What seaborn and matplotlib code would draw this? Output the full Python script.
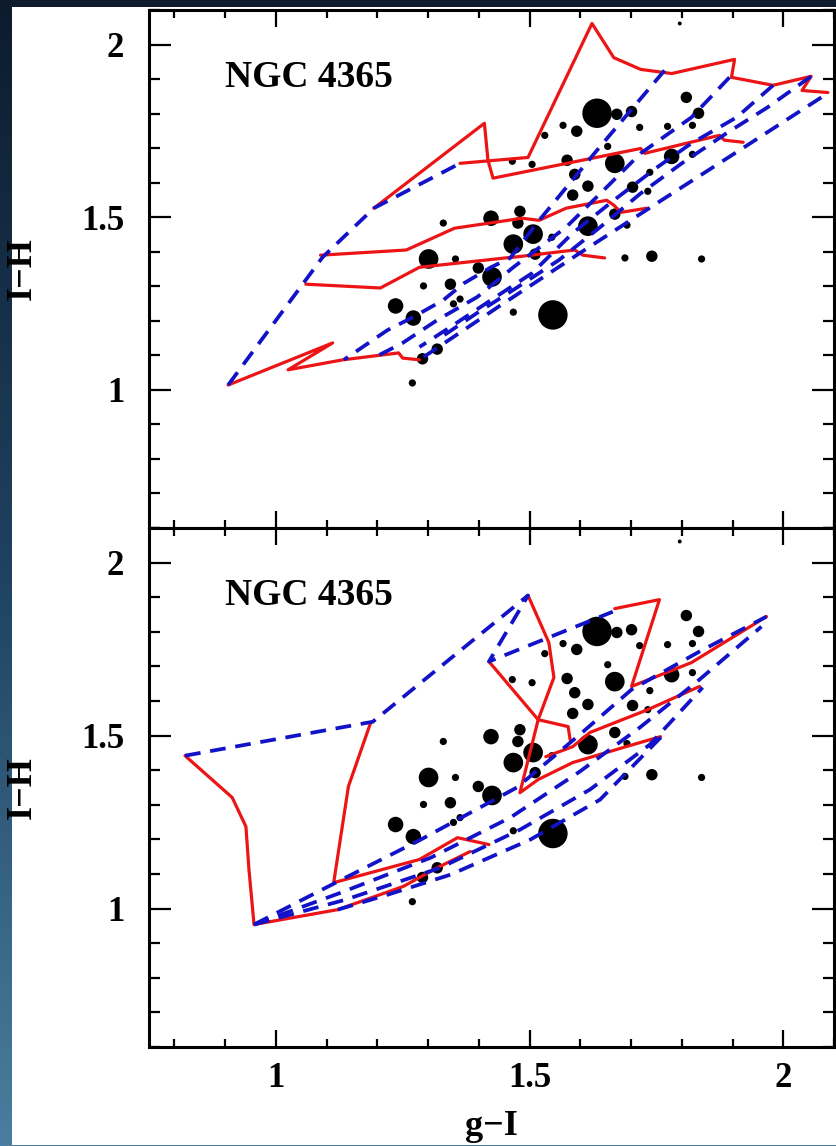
import numpy as np
import matplotlib
matplotlib.use("Agg")
import matplotlib.pyplot as plt
from matplotlib.ticker import MultipleLocator, FuncFormatter
from matplotlib.colors import LinearSegmentedColormap
from matplotlib.patches import Rectangle
import seaborn as sns

# ---------------- globular clusters (same in both panels) ----------------
gc_gI = [1.330, 1.424, 1.301, 1.354, 1.399, 1.291, 1.344, 1.236, 1.271, 1.363,
         1.350, 1.318, 1.289, 1.269, 1.796, 1.633, 1.672, 1.701, 1.566, 1.593,
         1.530, 1.717, 1.654, 1.809, 1.833, 1.772, 1.821, 1.466, 1.505, 1.574,
         1.668, 1.780, 1.821, 1.589, 1.737, 1.703, 1.733, 1.615, 1.585, 1.481,
         1.477, 1.615, 1.668, 1.692, 1.544, 1.507, 1.468, 1.511, 1.688, 1.741,
         1.839, 1.426, 1.468, 1.546]
gc_IH = [1.483, 1.497, 1.379, 1.379, 1.353, 1.301, 1.306, 1.243, 1.208, 1.263,
         1.249, 1.118, 1.090, 1.020, 2.061, 1.801, 1.798, 1.806, 1.766, 1.749,
         1.737, 1.760, 1.705, 1.847, 1.801, 1.763, 1.766, 1.662, 1.653, 1.665,
         1.656, 1.676, 1.682, 1.624, 1.630, 1.587, 1.575, 1.590, 1.564, 1.517,
         1.483, 1.474, 1.509, 1.477, 1.442, 1.451, 1.422, 1.393, 1.382, 1.387,
         1.379, 1.327, 1.225, 1.217]
gc_size = [2, 4, 5, 2, 3, 2, 3, 4, 4, 2,
           2, 3, 3, 2, 1, 6, 3, 3, 2, 3,
           2, 2, 2, 3, 3, 2, 2, 2, 2, 3,
           5, 4, 2, 3, 2, 3, 2, 3, 3, 3,
           3, 5, 3, 2, 2, 5, 5, 3, 2, 3,
           2, 5, 2, 6]

# ---------------- top panel model grid ----------------
top_red_1_x = [0.906, 1.112, 1.024, 1.132, 1.242, 1.250, 1.283]
top_red_1_y = [1.014, 1.136, 1.058, 1.087, 1.107, 1.092, 1.087]
top_red_2_x = [1.059, 1.206, 1.283, 1.452, 1.468, 1.589, 1.605, 1.648]
top_red_2_y = [1.306, 1.295, 1.355, 1.382, 1.384, 1.405, 1.390, 1.382]
top_red_3_x = [1.088, 1.257, 1.352, 1.485, 1.519, 1.572, 1.652, 1.666, 1.680, 1.731]
top_red_3_y = [1.390, 1.405, 1.468, 1.497, 1.491, 1.526, 1.549, 1.535, 1.514, 1.526]
top_red_4_x = [1.193, 1.411, 1.418, 1.428, 1.719, 1.727, 1.874, 1.884, 1.921]
top_red_4_y = [1.526, 1.772, 1.665, 1.613, 1.699, 1.685, 1.737, 1.723, 1.717]
top_red_5_x = [1.363, 1.497, 1.623, 1.666, 1.719, 1.780, 1.904, 1.898, 1.980, 2.055, 2.037, 2.088]
top_red_5_y = [1.656, 1.673, 2.061, 1.962, 1.928, 1.916, 1.957, 1.905, 1.882, 1.908, 1.867, 1.861]

top_blue_0_x = [0.906, 1.092, 1.193, 1.363]
top_blue_0_y = [1.014, 1.384, 1.526, 1.656]
top_blue_1_x = [1.766, 1.633, 1.519, 1.462, 1.424, 1.371, 1.330, 1.271, 1.220, 1.134]
top_blue_1_y = [1.925, 1.694, 1.491, 1.382, 1.355, 1.309, 1.260, 1.211, 1.173, 1.087]
top_blue_2_x = [1.894, 1.819, 1.719, 1.652, 1.572, 1.468, 1.397, 1.318, 1.250, 1.196]
top_blue_2_y = [1.905, 1.789, 1.685, 1.587, 1.471, 1.355, 1.269, 1.202, 1.136, 1.095]
top_blue_3_x = [1.980, 1.908, 1.819, 1.752, 1.666, 1.585, 1.505, 1.424, 1.344, 1.283]
top_blue_3_y = [1.882, 1.789, 1.714, 1.645, 1.549, 1.454, 1.338, 1.260, 1.182, 1.124]
top_blue_4_x = [2.055, 1.969, 1.888, 1.800, 1.719, 1.639, 1.558, 1.477, 1.397, 1.318]
top_blue_4_y = [1.908, 1.818, 1.743, 1.656, 1.569, 1.471, 1.376, 1.298, 1.223, 1.145]
top_blue_5_x = [2.075, 1.914, 1.760, 1.599, 1.438, 1.283]
top_blue_5_y = [1.847, 1.694, 1.549, 1.396, 1.240, 1.087]

# ---------------- bottom panel model grid ----------------
bot_red_1_x = [0.821, 0.914, 0.941, 0.947, 0.957, 1.122, 1.251, 1.318, 1.383]
bot_red_1_y = [1.442, 1.321, 1.237, 1.113, 0.954, 0.997, 1.064, 1.118, 1.165]
bot_red_2_x = [1.187, 1.143, 1.114, 1.283, 1.358, 1.420]
bot_red_2_y = [1.538, 1.353, 1.075, 1.142, 1.205, 1.185]
bot_red_3_x = [1.497, 1.538, 1.548, 1.517, 1.481, 1.517, 1.585, 1.690, 1.758]
bot_red_3_y = [1.905, 1.769, 1.668, 1.546, 1.335, 1.373, 1.422, 1.468, 1.497]
bot_red_4_x = [1.420, 1.517, 1.576, 1.580]
bot_red_4_y = [1.714, 1.546, 1.526, 1.488]
bot_red_5_x = [1.668, 1.756, 1.701, 1.819, 1.967]
bot_red_5_y = [1.867, 1.893, 1.642, 1.711, 1.844]
bot_red_6_x = [1.532, 1.585, 1.619, 1.733, 1.835]
bot_red_6_y = [1.439, 1.468, 1.509, 1.575, 1.642]

bot_blue_0_x = [0.821, 1.191, 1.497, 1.420, 1.664]
bot_blue_0_y = [1.442, 1.540, 1.905, 1.714, 1.858]
bot_blue_1_x = [0.957, 1.118, 1.285, 1.475, 1.599, 1.701, 1.835, 1.967]
bot_blue_1_y = [0.954, 1.075, 1.199, 1.350, 1.503, 1.633, 1.743, 1.844]
bot_blue_2_x = [0.957, 1.128, 1.305, 1.462, 1.599, 1.717, 1.835, 1.957]
bot_blue_2_y = [0.954, 1.046, 1.147, 1.263, 1.396, 1.523, 1.662, 1.815]
bot_blue_3_x = [0.957, 1.138, 1.324, 1.481, 1.619, 1.737, 1.841]
bot_blue_3_y = [0.954, 1.026, 1.118, 1.228, 1.344, 1.474, 1.639]
bot_blue_4_x = [1.122, 1.220, 1.344, 1.501, 1.639, 1.760]
bot_blue_4_y = [0.997, 1.040, 1.098, 1.199, 1.315, 1.497]

galaxy_label = "NGC 4365"
x_label = "g\u2212I"
y_label = "I\u2212H"
size_map = {1: 8, 2: 27, 3: 68, 4: 125, 5: 200, 6: 450}

top_red = [(top_red_1_x, top_red_1_y), (top_red_2_x, top_red_2_y), (top_red_3_x, top_red_3_y),
           (top_red_4_x, top_red_4_y), (top_red_5_x, top_red_5_y)]
top_blue = [(top_blue_0_x, top_blue_0_y), (top_blue_1_x, top_blue_1_y), (top_blue_2_x, top_blue_2_y),
            (top_blue_3_x, top_blue_3_y), (top_blue_4_x, top_blue_4_y), (top_blue_5_x, top_blue_5_y)]
bot_red = [(bot_red_1_x, bot_red_1_y), (bot_red_2_x, bot_red_2_y), (bot_red_3_x, bot_red_3_y),
           (bot_red_4_x, bot_red_4_y), (bot_red_5_x, bot_red_5_y), (bot_red_6_x, bot_red_6_y)]
bot_blue = [(bot_blue_0_x, bot_blue_0_y), (bot_blue_1_x, bot_blue_1_y), (bot_blue_2_x, bot_blue_2_y),
            (bot_blue_3_x, bot_blue_3_y), (bot_blue_4_x, bot_blue_4_y)]

# ---------------- style ----------------
sns.set_theme(style="ticks")
plt.rcParams['font.family'] = ['Liberation Serif', 'DejaVu Serif']
plt.rcParams['font.weight'] = 'bold'
plt.rcParams['axes.labelweight'] = 'bold'
plt.rcParams['text.color'] = 'black'
plt.rcParams['axes.labelcolor'] = 'black'

RED = "#ec1414"
BLUE = "#1212c8"

W, H = 836, 1146
fig = plt.figure(figsize=(W / 100, H / 100), dpi=100)

# slide background
bg = fig.add_axes([0, 0, 1, 1], zorder=-10)
grad = np.linspace(0, 1, 256).reshape(-1, 1)
cmap = LinearSegmentedColormap.from_list('bg', ['#0d1b2d', '#1f4261', '#4a7e9e'])
bg.imshow(grad, aspect='auto', cmap=cmap, extent=[0, 1, 0, 1], origin='upper')
bg.add_patch(Rectangle((12 / W, 1 / H), 1 - 12 / W, (1145 - 7) / H, color='white', lw=0))
bg.set_xlim(0, 1)
bg.set_ylim(0, 1)
bg.axis('off')

left = 149 / W
width = (834 - 149) / W
ax1 = fig.add_axes([left, 1 - 528 / H, width, (528 - 10) / H])
ax2 = fig.add_axes([left, 1 - 1047 / H, width, (1047 - 528) / H])


def draw(ax, reds, blues):
    sns.scatterplot(x=gc_gI, y=gc_IH, size=gc_size, sizes=size_map, color='black',
                    linewidth=0, legend=False, ax=ax, zorder=2)
    for xs, ys in reds:
        sns.lineplot(x=xs, y=ys, sort=False, estimator=None, color=RED, lw=2.3,
                     ax=ax, zorder=3)
    for xs, ys in blues:
        sns.lineplot(x=xs, y=ys, sort=False, estimator=None, color=BLUE, lw=2.7,
                     linestyle=(0, (4.2, 2.6)), ax=ax, zorder=4)
    ax.text(0.9, 1.905, galaxy_label, fontsize=27, fontweight='bold', color='black',
            ha='left', va='center', zorder=5)


def style(ax, show_xlabels):
    ax.set_facecolor('white')
    ax.set_xlim(0.75, 2.1)
    ax.set_ylim(0.6, 2.1)
    ax.xaxis.set_major_locator(MultipleLocator(0.5))
    ax.xaxis.set_minor_locator(MultipleLocator(0.1))
    ax.yaxis.set_major_locator(MultipleLocator(0.5))
    ax.yaxis.set_minor_locator(MultipleLocator(0.1))
    fmt = FuncFormatter(lambda v, p: f"{v:g}")
    ax.xaxis.set_major_formatter(fmt)
    ax.yaxis.set_major_formatter(fmt)
    ax.tick_params(which='both', direction='in', top=True, right=True,
                   width=1.6, color='black', labelsize=25, labelcolor='black')
    ax.tick_params(axis='y', which='major', length=16, pad=18)
    ax.tick_params(axis='y', which='minor', length=8)
    ax.tick_params(axis='x', which='major', length=12, pad=11)
    ax.tick_params(axis='x', which='minor', length=6)
    for sp in ax.spines.values():
        sp.set_linewidth(2.2)
        sp.set_color('black')
    ax.set_ylabel(y_label, fontsize=26, fontweight='bold', color='black')
    ax.yaxis.set_label_coords((39 - 149) / (834 - 149), 0.5)
    if show_xlabels:
        ax.set_xlabel(x_label, fontsize=26, fontweight='bold', color='black')
        ax.xaxis.set_label_coords(0.5, (1047 - 1110) / (1047 - 528))
    else:
        ax.set_xlabel("")
        ax.tick_params(axis='x', labelbottom=False)
    for lab in ax.get_xticklabels() + ax.get_yticklabels():
        lab.set_fontweight('bold')


draw(ax1, top_red, top_blue)
draw(ax2, bot_red, bot_blue)
style(ax1, False)
style(ax2, True)

fig.savefig("out.png", dpi=100)
